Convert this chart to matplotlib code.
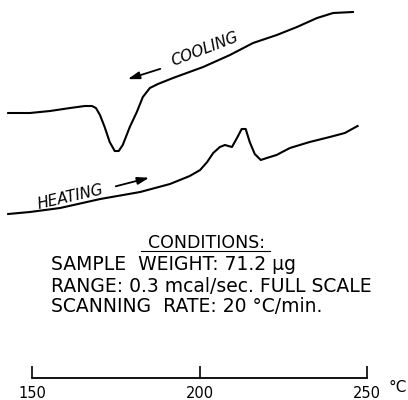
import matplotlib
matplotlib.use("Agg")
import matplotlib.pyplot as plt
from matplotlib.lines import Line2D

# DSC trace: temperature (deg C) and signal (arb. units)
cool_temp = [142.8, 149.3, 155.3, 161.3, 165.7, 167.8, 169.0, 170.2, 171.6, 173.1,
             174.6, 175.8, 177.0, 179.1, 181.2, 183.0, 185.1, 187.5, 192.0, 201.0,
             209.0, 215.9, 223.0, 229.0, 235.0, 239.8, 245.7]
cool_sig = [12.7, 12.7, 12.9, 13.2, 13.4, 13.4, 13.2, 12.5, 11.3, 9.8,
            8.9, 8.9, 9.5, 11.3, 12.8, 14.3, 15.2, 15.6, 16.2, 17.3,
            18.5, 19.7, 20.5, 21.3, 22.2, 22.7, 22.8]

heat_temp = [142.8, 149.3, 158.3, 170.3, 182.2, 191.1, 197.0, 200.1, 202.2, 204.0,
             206.0, 207.5, 209.6, 211.1, 212.5, 213.7, 214.9, 216.4, 218.2, 220.0,
             222.9, 226.9, 232.8, 238.8, 243.3, 247.1]
heat_sig = [2.6, 2.8, 3.2, 4.1, 4.8, 5.6, 6.4, 7.0, 7.8, 8.7,
            9.3, 9.5, 9.3, 10.2, 11.1, 11.1, 9.8, 8.6, 8.0, 8.2,
            8.5, 9.2, 9.8, 10.3, 10.7, 11.4]

ticks = [150, 200, 250]
tick_labels = ["150", "200", "250"]
conditions = ["SAMPLE  WEIGHT: 71.2 \u03bcg",
              "RANGE: 0.3 mcal/sec. FULL SCALE",
              "SCANNING  RATE: 20 \u00b0C/min."]

fig = plt.figure(figsize=(4.08, 4.0), dpi=100)
ax = fig.add_axes([0, 0, 1, 1])
ax.set_xlim(140.36, 262.15)
ax.set_ylim(-16, 24)

ax.plot(cool_temp, cool_sig, color="black", lw=1.5)
ax.plot(heat_temp, heat_sig, color="black", lw=1.5)

# direction labels with arrows
arrow = dict(arrowstyle="-|>,head_length=0.7,head_width=0.22", color="black", lw=1.3)
ax.annotate("", xy=(177.7, 16.0), xytext=(189.0, 17.2), arrowprops=arrow)
ax.annotate("", xy=(185.7, 6.3), xytext=(174.1, 5.3), arrowprops=arrow)
ax.text(201.5, 19.05, "COOLING", style="italic", fontsize=11, rotation=21,
        ha="center", va="center")
ax.text(161.5, 4.25, "HEATING", style="italic", fontsize=11, rotation=13,
        ha="center", va="center")

# conditions block
ax.text(0.505, 0.3925, "CONDITIONS:", transform=ax.transAxes, fontsize=12.5,
        ha="center", va="center")
ax.add_line(Line2D([0.345, 0.662], [0.372, 0.372], transform=ax.transAxes,
                   color="black", lw=0.8))
for i, line in enumerate(conditions):
    ax.text(0.125, 0.3375 - i * 0.0525, line, transform=ax.transAxes,
            fontsize=13.5, ha="left", va="center")

# temperature scale drawn as the bottom spine
for s in ["top", "right", "left"]:
    ax.spines[s].set_visible(False)
ax.spines["bottom"].set_position(("data", -13.77))
ax.spines["bottom"].set_bounds(150, 250)
ax.spines["bottom"].set_linewidth(1.3)
ax.set_xticks(ticks)
ax.set_xticklabels(tick_labels, fontsize=10.5)
ax.tick_params(axis="x", direction="in", length=8.5, width=1.2, pad=6)
ax.set_yticks([])
ax.text(398 / 408, 1 - 388 / 400, "\u00b0C", transform=ax.transAxes,
        fontsize=11, ha="center", va="center")

fig.savefig("out.png", dpi=100)
